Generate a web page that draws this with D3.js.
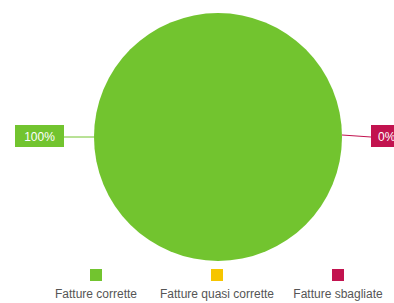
<!DOCTYPE html>
<html>
<head>
<meta charset="utf-8">
<script src="https://cdn.jsdelivr.net/npm/d3@7"></script>
<style>
  body { margin: 0; background: #fff; }
  text { font-family: "Liberation Sans", Arial, sans-serif; }
</style>
</head>
<body>
<div id="chart"></div>
<script>
var categories = ["Fatture corrette", "Fatture quasi corrette", "Fatture sbagliate"];
var values = [100, 0, 0];
var labels = ["100%", "0%", "0%"];
var colors = ["#72c42f", "#f6c500", "#c2134f"];

var w = 394, h = 303;
var cx = 218, cy = 137, r = 124;

var svg = d3.select("#chart").append("svg")
  .attr("width", w)
  .attr("height", h);

var pie = d3.pie().sort(null).value(function(d) { return d; });
var arcs = pie(values);
var arc = d3.arc().innerRadius(0).outerRadius(r);

var g = svg.append("g").attr("transform", "translate(" + cx + "," + cy + ")");

g.selectAll("path")
  .data(arcs)
  .enter()
  .append("path")
  .attr("d", arc)
  .attr("fill", function(d, i) { return colors[i]; });

//callouts: 100% on the left, 0% (sbagliate) on the right//
var callouts = [
  {i: 0, x1: -r, y1: 0, x2: -154, y2: 0, bx: -203, bw: 49},
  {i: 2, x1: r, y1: -2, x2: 153, y2: 0, bx: 153, bw: 40}
];

g.selectAll("line.callout")
  .data(callouts)
  .enter()
  .append("line")
  .attr("class", "callout")
  .attr("x1", function(d) { return d.x1; })
  .attr("y1", function(d) { return d.y1; })
  .attr("x2", function(d) { return d.x2; })
  .attr("y2", function(d) { return d.y2; })
  .attr("stroke", function(d) { return colors[d.i]; })
  .attr("stroke-width", 1);

g.selectAll("rect.box")
  .data(callouts)
  .enter()
  .append("rect")
  .attr("class", "box")
  .attr("x", function(d) { return d.bx; })
  .attr("y", -12)
  .attr("width", function(d) { return d.bw; })
  .attr("height", 22)
  .attr("fill", function(d) { return colors[d.i]; });

g.selectAll("text.lab")
  .data(callouts)
  .enter()
  .append("text")
  .attr("class", "lab")
  .attr("x", function(d) { return d.i === 0 ? d.bx + d.bw / 2 : d.bx + 7; })
  .attr("y", 4)
  .attr("text-anchor", function(d) { return d.i === 0 ? "middle" : "start"; })
  .attr("font-size", "12px")
  .attr("fill", "#fff")
  .text(function(d) { return labels[d.i]; });

//legend//
var lx = d3.scalePoint().domain(categories).range([96, 338]);

var legend = svg.selectAll("g.legend")
  .data(categories)
  .enter()
  .append("g")
  .attr("class", "legend")
  .attr("transform", function(d) { return "translate(" + lx(d) + ",0)"; });

legend.append("rect")
  .attr("x", -6)
  .attr("y", 269)
  .attr("width", 12)
  .attr("height", 12)
  .attr("fill", function(d, i) { return colors[i]; });

legend.append("text")
  .attr("y", 298)
  .attr("text-anchor", "middle")
  .attr("font-size", "12px")
  .attr("fill", "#555")
  .text(function(d) { return d; });
</script>
</body>
</html>
